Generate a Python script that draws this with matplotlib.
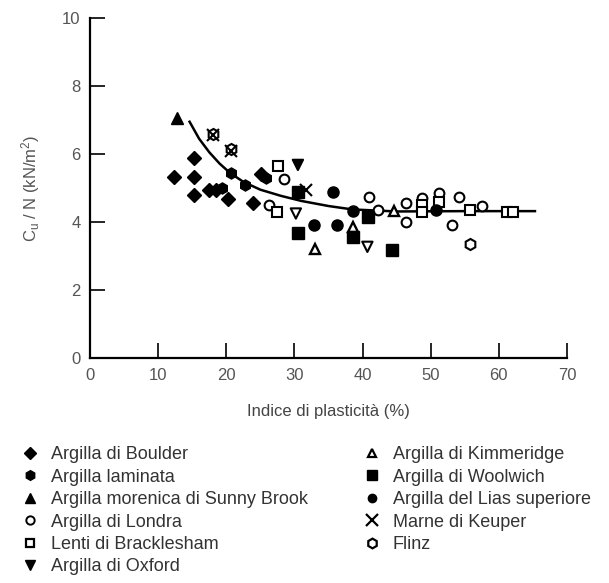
import matplotlib.pyplot as plt
from matplotlib.lines import Line2D

plt.rcParams['font.family'] = ['Liberation Sans', 'DejaVu Sans']
plt.rcParams['mathtext.fontset'] = 'custom'
plt.rcParams['mathtext.rm'] = 'Liberation Sans'
plt.rcParams['mathtext.it'] = 'Liberation Sans'

# data: (indice di plasticita %, cu/N kN/m2)
boulder_x = [12.3, 15.3, 15.3, 15.3, 17.5, 18.5, 20.2, 23.9, 25.1]
boulder_y = [5.33, 5.87, 5.33, 4.79, 4.95, 4.95, 4.67, 4.55, 5.40]
laminata_x = [19.3, 20.7, 22.8, 25.8]
laminata_y = [5.00, 5.43, 5.09, 5.30]
sunny_x = [12.7]
sunny_y = [7.05]
londra_x = [28.4, 26.3, 40.9, 42.2, 46.3, 46.3, 48.7, 51.2, 53.1, 54.2, 57.5]
londra_y = [5.28, 4.50, 4.75, 4.35, 4.55, 4.00, 4.70, 4.84, 3.91, 4.75, 4.47]
brack_x = [27.6, 27.5, 48.7, 48.7, 51.2, 55.8, 61.2, 62.1]
brack_y = [5.65, 4.30, 4.50, 4.30, 4.60, 4.35, 4.30, 4.30]
oxford_x = [30.5, 30.2, 40.7]
oxford_y = [5.68, 4.25, 3.27]
oxford_fill = ['black', 'white', 'white']
kimm_x = [33.0, 38.6, 44.6]
kimm_y = [3.20, 3.84, 4.32]
woolwich_x = [30.5, 30.5, 38.6, 40.8, 44.3]
woolwich_y = [4.89, 3.67, 3.55, 4.15, 3.18]
lias_x = [35.6, 32.9, 36.3, 38.6, 50.7]
lias_y = [4.89, 3.91, 3.91, 4.33, 4.35]
keuper_x = [18.0, 20.7, 31.7]
keuper_y = [6.56, 6.10, 4.94]
flinz_x = [18.0, 20.7, 55.8]
flinz_y = [6.60, 6.15, 3.35]

trend_x = [14.6, 16.0, 17.5, 19.0, 20.5, 22.5, 25.0, 28.0, 31.0, 35.0, 38.5, 45.0, 55.0, 65.3]
trend_y = [6.95, 6.45, 6.05, 5.72, 5.45, 5.18, 4.95, 4.77, 4.62, 4.47, 4.37, 4.31, 4.32, 4.32]

fig = plt.figure(figsize=(6.09, 5.83), dpi=100)
ax = fig.add_axes([0.148, 0.386, 0.783, 0.583])

ax.plot(trend_x, trend_y, color='black', lw=1.8, zorder=2)

ms = 8
ax.plot(boulder_x, boulder_y, 'D', color='black', ms=7, ls='none')
ax.plot(laminata_x, laminata_y, 'h', color='black', ms=ms, ls='none')
ax.plot(sunny_x, sunny_y, '^', color='black', ms=ms, ls='none')
ax.plot(londra_x, londra_y, 'o', mfc='white', mec='black', mew=1.5, ms=7, ls='none')
ax.plot(brack_x, brack_y, 's', mfc='white', mec='black', mew=1.5, ms=7, ls='none')
ax.scatter(oxford_x, oxford_y, marker='v', s=55, c=oxford_fill, edgecolors='black', linewidths=1.5, zorder=3)
ax.plot(kimm_x, kimm_y, '^', mfc='white', mec='black', mew=1.7, ms=7, ls='none')
ax.plot(woolwich_x, woolwich_y, 's', color='black', ms=ms, ls='none')
ax.plot(lias_x, lias_y, 'o', color='black', ms=ms, ls='none')
ax.plot(keuper_x, keuper_y, 'x', color='black', mew=1.5, ms=ms, ls='none')
ax.plot(flinz_x, flinz_y, 'h', mfc='none', mec='black', mew=1.5, ms=ms, ls='none')

ax.set_xlim(0, 70)
ax.set_ylim(0, 10)
ax.set_xticks(range(0, 71, 10))
ax.set_yticks(range(0, 11, 2))
for s in ['top', 'right']:
    ax.spines[s].set_visible(False)
for s in ['left', 'bottom']:
    ax.spines[s].set_linewidth(1.6)
ax.tick_params(direction='in', length=11, width=1.2, labelsize=12,
               labelcolor='#555555', pad=7)
ax.set_xlabel('Indice di plasticità (%)', fontsize=12, color='#444444', labelpad=15)
ax.set_ylabel(r'$C_u$ / N (kN/m$^2$)', fontsize=12, color='#555555', labelpad=14)

left = [
    ('Argilla di Boulder', dict(marker='D', color='black', ms=6)),
    ('Argilla laminata', dict(marker='h', color='black', ms=7)),
    ('Argilla morenica di Sunny Brook', dict(marker='^', color='black', ms=7)),
    ('Argilla di Londra', dict(marker='o', mfc='white', mec='black', mew=1.4, ms=6)),
    ('Lenti di Bracklesham', dict(marker='s', mfc='white', mec='black', mew=1.6, ms=6)),
    ('Argilla di Oxford', dict(marker='v', color='black', ms=7)),
]
right = [
    ('Argilla di Kimmeridge', dict(marker='^', mfc='white', mec='black', mew=1.6, ms=6)),
    ('Argilla di Woolwich', dict(marker='s', color='black', ms=7)),
    ('Argilla del Lias superiore', dict(marker='o', color='black', ms=6)),
    ('Marne di Keuper', dict(marker='x', color='black', mew=1.6, ms=8)),
    ('Flinz', dict(marker='h', mfc='white', mec='black', mew=1.6, ms=7)),
]

for items, x0 in [(left, 0.020), (right, 0.581)]:
    handles = [Line2D([], [], ls='none', **kw) for _, kw in items]
    labels = [name for name, _ in items]
    leg = fig.legend(handles, labels, loc='upper left', bbox_to_anchor=(x0, 0.250),
                     frameon=False, borderpad=0, handlelength=1.0,
                     handletextpad=0.65, labelspacing=0.3, fontsize=13)
    for t in leg.get_texts():
        t.set_color('#333333')

fig.savefig('out.png', dpi=100)
